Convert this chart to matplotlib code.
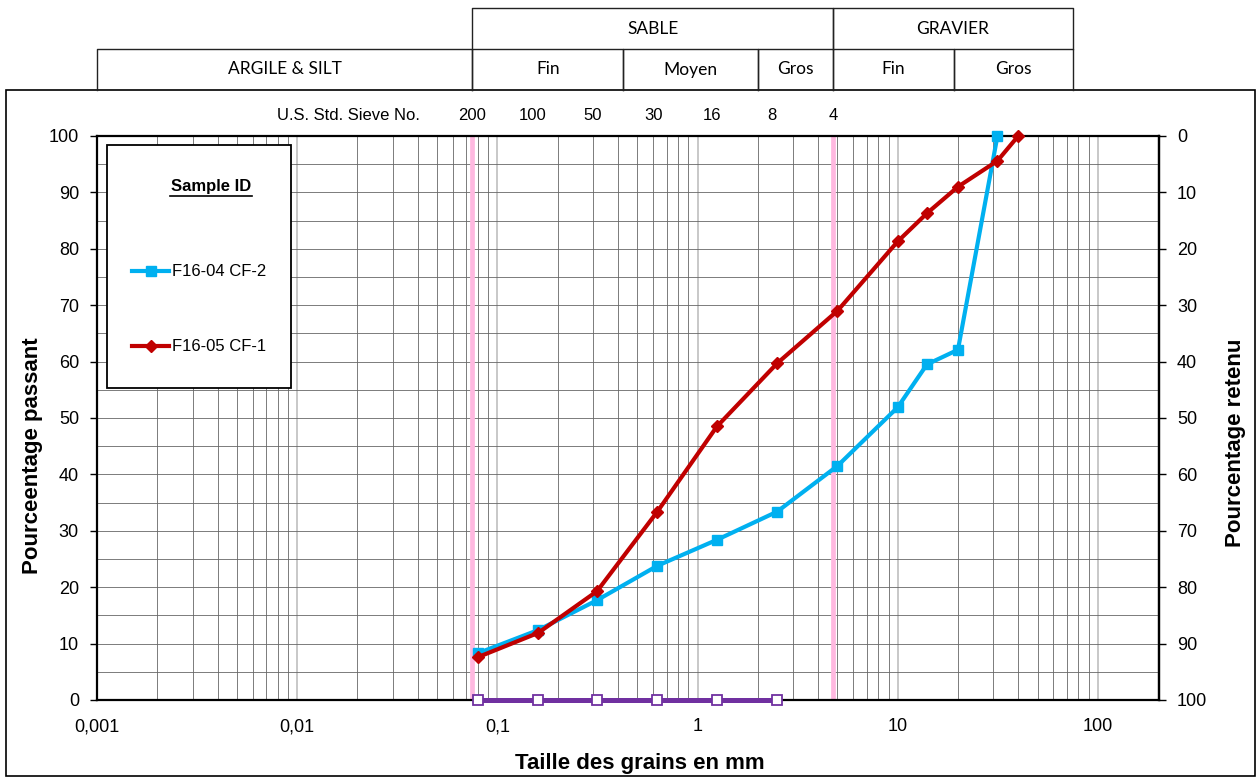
import matplotlib
matplotlib.use("Agg")
import matplotlib.pyplot as plt
from matplotlib.lines import Line2D
from matplotlib.patches import Rectangle
import matplotlib.transforms as mtransforms

plt.rcParams['font.family'] = ['Liberation Sans', 'DejaVu Sans']

# data
sizes_a = [0.08, 0.16, 0.315, 0.63, 1.25, 2.5, 5, 10, 14, 20, 31.5]
pass_a = [8.3, 12.4, 17.7, 23.8, 28.4, 33.4, 41.5, 51.9, 59.5, 62.1, 100]
sizes_b = [0.08, 0.16, 0.315, 0.63, 1.25, 2.5, 5, 10, 14, 20, 31.5, 40]
pass_b = [7.6, 11.9, 19.3, 33.4, 48.5, 59.7, 69.0, 81.3, 86.3, 91.0, 95.6, 100]
sizes_base = [0.08, 0.16, 0.315, 0.63, 1.25, 2.5]
pass_base = [0, 0, 0, 0, 0, 0]
names = ["F16-04 CF-2", "F16-05 CF-1"]

sieve_no = ["200", "100", "50", "30", "16", "8", "4"]
sieve_mm = [0.075, 0.15, 0.3, 0.6, 1.18, 2.36, 4.75]
limits_mm = [0.075, 4.75]

xticks = [0.001, 0.01, 0.1, 1, 10, 100]
xlabels = ["0,001", "0,01", "0,1", "1", "10", "100"]

# classification boxes (lower row, upper row)
sub_edges = [0.001, 0.075, 0.425, 2.0, 4.75, 19, 75]
sub_names = ["ARGILE & SILT", "Fin", "Moyen", "Gros", "Fin", "Gros"]
main_edges = [0.075, 4.75, 75]
main_names = ["SABLE", "GRAVIER"]

W, H = 1258, 780
fig = plt.figure(figsize=(W / 100, H / 100), dpi=100)
ax = fig.add_axes([97 / W, 1 - 700 / H, 1062 / W, 564 / H])

ax.set_xscale('log')
ax.set_xlim(0.001, 202)
ax.set_ylim(0, 100)

# grid
for dec in [0.001, 0.01, 0.1, 1, 10, 100]:
    for k in range(1, 10):
        v = dec * k
        if v > 202:
            break
        if k == 1:
            ax.axvline(v, color='#c4c4c4', lw=1.3, zorder=1)
        else:
            ax.axvline(v, color='#666666', lw=0.6, zorder=1)
for v in range(5, 100, 5):
    ax.axhline(v, color='#666666', lw=0.6, zorder=1)

for v in limits_mm:
    ax.axvline(v, color='#ffb8e0', lw=3.4, zorder=2)

ax.plot(sizes_base, pass_base, color='#7030a0', lw=3.6, marker='s', ms=7,
        mfc='white', mec='#7030a0', mew=1.3, zorder=5, clip_on=False)
la, = ax.plot(sizes_a, pass_a, color='#00b0f0', lw=3, marker='s', ms=7.5,
              zorder=4, clip_on=False, label=names[0])
lb, = ax.plot(sizes_b, pass_b, color='#c00000', lw=3, marker='D', ms=6.5,
              zorder=4, clip_on=False, label=names[1])

for s in ax.spines.values():
    s.set_linewidth(1.6)
    s.set_color('black')
    s.set_zorder(3)

ax.set_xticks(xticks, xlabels)
ax.xaxis.set_minor_locator(matplotlib.ticker.NullLocator())
ax.tick_params(axis='x', length=0, pad=13, labelsize=13)
ax.set_yticks(range(0, 101, 10))
ax.tick_params(axis='y', length=5, width=1, pad=8, labelsize=13, direction='out')

ax2 = ax.twinx()
ax2.set_ylim(100, 0)
ax2.set_yticks(range(0, 101, 10))
ax2.tick_params(axis='y', length=5, width=1, pad=8, labelsize=13, direction='out')
for side in ['top', 'bottom', 'left']:
    ax2.spines[side].set_visible(False)
ax2.spines['right'].set_linewidth(1.6)
ax.set_zorder(ax2.get_zorder() + 1)
ax.patch.set_visible(False)

fig.text(33 / W, 1 - 456 / H, "Pourceentage passant", rotation=90, ha='center',
         va='center', fontsize=16, fontweight='bold')
fig.text(1235 / W, 1 - 443 / H, "Pourcentage retenu", rotation=90, ha='center',
         va='center', fontsize=16, fontweight='bold')
fig.text(640 / W, 1 - 763 / H, "Taille des grains en mm", ha='center',
         va='center', fontsize=16, fontweight='bold')

# sieve numbers above the plot
btr = mtransforms.blended_transform_factory(ax.transData, fig.transFigure)
y_sieve = 1 - 115 / H
for lab, mm in zip(sieve_no, sieve_mm):
    fig.text(mm, y_sieve, lab, transform=btr, ha='center', va='center', fontsize=12)
fig.text(420 / W, y_sieve, "U.S. Std. Sieve No.", ha='right', va='center', fontsize=12)

# outer frame
fig.add_artist(Rectangle((6 / W, 4 / H), 1249 / W, 686 / H, transform=fig.transFigure,
                         fill=False, ec='black', lw=1.2))

# classification table
y0, y1, y2 = 1 - 90 / H, 1 - 49 / H, 1 - 8 / H
bc = '#222222'
for i in range(len(sub_names)):
    a, b = sub_edges[i], sub_edges[i + 1]
    fig.add_artist(Line2D([a, a, b, b], [y0, y1, y1, y0], transform=btr, color=bc, lw=1))
    xm = (a * b) ** 0.5
    fig.text(xm, (y0 + y1) / 2, sub_names[i], transform=btr, ha='center', va='center',
             fontsize=12.5, family=['Lato', 'DejaVu Sans'])
for i in range(len(main_names)):
    a, b = main_edges[i], main_edges[i + 1]
    fig.add_artist(Line2D([a, a, b, b], [y1, y2, y2, y1], transform=btr, color=bc, lw=1))
    xm = (a * b) ** 0.5
    fig.text(xm, (y1 + y2) / 2, main_names[i], transform=btr, ha='center', va='center',
             fontsize=12.5, family=['Lato', 'DejaVu Sans'])

# legend box
fig.add_artist(Rectangle((107 / W, 1 - 388 / H), 184 / W, 243 / H, transform=fig.transFigure,
                         fill=True, fc='white', ec='black', lw=1.3, zorder=6))
fig.text(211 / W, 1 - 187 / H, "Sample ID", ha='center', va='center', fontsize=12,
         fontweight='bold', zorder=7)
fig.add_artist(Line2D([170 / W, 252 / W], [1 - 196 / H, 1 - 196 / H],
                      transform=fig.transFigure, color='black', lw=1.2, zorder=7))
leg = fig.legend(handles=[la, lb], loc='upper left', bbox_to_anchor=(124 / W, 1 - 256 / H),
                 frameon=False, fontsize=12,
                 handlelength=2.2, handletextpad=0.15, labelspacing=3.6, borderpad=0)
leg.set_zorder(8)

fig.savefig("out.png", dpi=100)
